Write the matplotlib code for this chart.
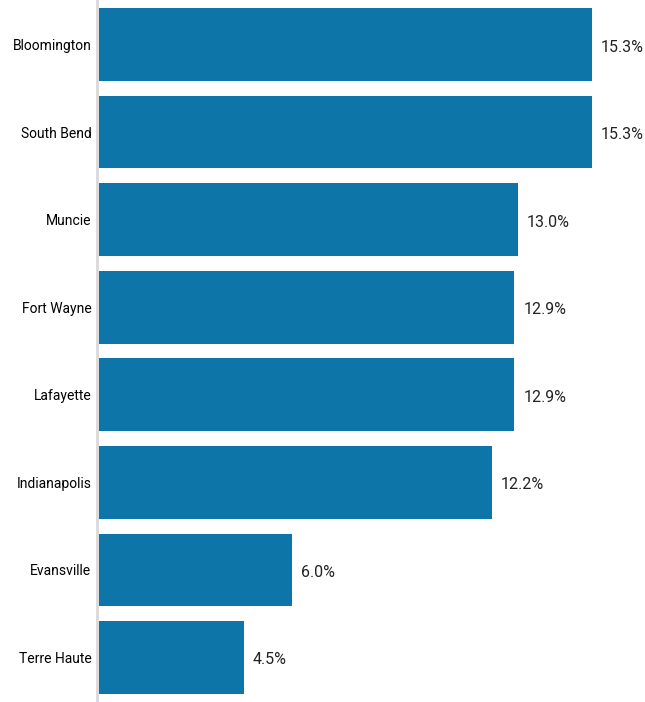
import matplotlib.pyplot as plt

# data
cities = ['Bloomington', 'South Bend', 'Muncie', 'Fort Wayne', 'Lafayette',
          'Indianapolis', 'Evansville', 'Terre Haute']
values = [15.3, 15.3, 13.0, 12.9, 12.9, 12.2, 6.0, 4.5]
labels = ['15.3%', '15.3%', '13.0%', '12.9%', '12.9%', '12.2%', '6.0%', '4.5%']

plt.rcParams['font.family'] = ['Roboto', 'DejaVu Sans']

fig = plt.figure(figsize=(6.45, 7.02), dpi=100)
ax = fig.add_axes([99 / 645, 0, 1 - 99 / 645, 1])

pos = list(range(len(cities)))
ax.barh(pos, values, height=0.83, color='#0e75a9')
for p, v, t in zip(pos, values, labels):
    ax.text(v + 0.28, p + 0.03, t, va='center', ha='left', fontsize=11.5, color='#222222')

ax.set_ylim(len(cities) - 0.49, -0.51)
ax.set_xlim(0, 16.96)
ax.set_yticks(pos)
ax.set_yticklabels(cities, fontsize=11.5, color='#222222')
ax.tick_params(axis='y', length=0, pad=4)
ax.set_xticks([])
for s in ['top', 'right', 'bottom']:
    ax.spines[s].set_visible(False)
ax.spines['left'].set_color('#d9d9d9')
ax.spines['left'].set_linewidth(2)
ax.spines['left'].set_position(('outward', 1.5))

fig.savefig('out.png', dpi=100)
